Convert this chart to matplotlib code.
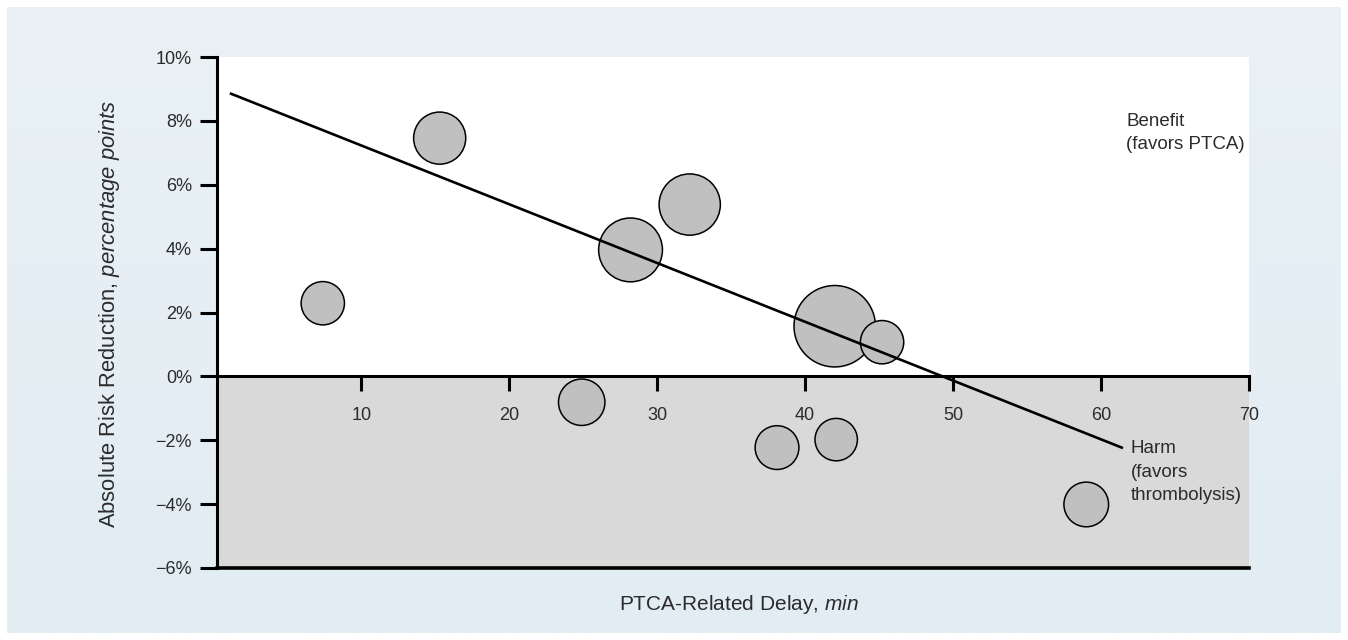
import numpy as np
import matplotlib
matplotlib.use("Agg")
import matplotlib.pyplot as plt

plt.rcParams['font.family'] = ['Liberation Sans', 'DejaVu Sans']
plt.rcParams['mathtext.fontset'] = 'custom'
plt.rcParams['mathtext.rm'] = 'Liberation Sans'
plt.rcParams['mathtext.it'] = 'Liberation Sans:italic'

# trial data
delay = [7.4, 15.3, 24.9, 28.2, 32.2, 38.1, 42.0, 45.2, 42.1, 59.0]
arr = [2.29, 7.46, -0.81, 3.96, 5.38, -2.23, 1.57, 1.07, -1.98, -4.01]
weight = [47, 68, 54, 102, 94, 48, 166, 47, 45, 50]

# regression line end points
trend_x = [1.2, 61.4]
trend_y = [8.85, -2.23]

xticks = [10, 20, 30, 40, 50, 60, 70]
yticks = [10, 8, 6, 4, 2, 0, -2, -4, -6]
ytick_labels = ['10%', '8%', '6%', '4%', '2%', '0%', '\u22122%', '\u22124%', '\u22126%']

W, H = 1348, 640
fig = plt.figure(figsize=(W / 100, H / 100), dpi=100)
fig.patch.set_facecolor('white')

# light blue gradient panel behind everything
bg = fig.add_axes([7 / W, 7 / H, 1334 / W, 626 / H], zorder=0)
grad = np.linspace(0, 1, 256).reshape(-1, 1)
cmap = matplotlib.colors.LinearSegmentedColormap.from_list('bg', ['#e9f1f5', '#e1ecf3'])
bg.imshow(grad, aspect='auto', cmap=cmap, extent=[0, 1, 0, 1])
bg.axis('off')

left, right, top, bottom = 217, 1249, 57, 568
ax = fig.add_axes([left / W, 1 - bottom / H, (right - left) / W, (bottom - top) / H], zorder=1)
ax.set_facecolor('white')
ax.set_xlim(0.25, 70)
ax.set_ylim(-6, 10)
ax.axhspan(-6, 0, color='#d9d9d9', zorder=0, lw=0)

txt = '#2b2b2b'
for s in ['top', 'right']:
    ax.spines[s].set_visible(False)
ax.spines['left'].set_linewidth(2.2)
ax.spines['bottom'].set_linewidth(2.2)
ax.spines['bottom'].set_position(('data', 0))
ax.axhline(-6, color='black', lw=2.6, zorder=5, clip_on=False)

ax.set_xticks(xticks)
ax.set_xticklabels([str(t) for t in xticks])
ax.set_yticks(yticks)
ax.set_yticklabels(ytick_labels)
ax.tick_params(axis='y', direction='out', length=12, width=2.2, pad=6,
               labelsize=13, labelcolor=txt)
ax.tick_params(axis='x', direction='out', length=11, width=2.2, pad=11,
               labelsize=13, labelcolor=txt)

ax.scatter(delay, arr, s=[w * 20.7 for w in weight], facecolor='#c0c0c0',
           edgecolor='black', linewidth=1.1, zorder=3)
ax.plot(trend_x, trend_y, color='black', lw=1.9, zorder=4)

ax.text(61.7, 8.25, 'Benefit\n(favors PTCA)', fontsize=13.5, color=txt,
        va='top', ha='left', linespacing=1.5)
ax.text(62.0, -2.0, 'Harm\n(favors\nthrombolysis)', fontsize=13.5, color=txt,
        va='top', ha='left', linespacing=1.5)

fig.text(739 / W, 1 - 605 / H, 'PTCA-Related Delay, $\\it{min}$', fontsize=15,
         color=txt, ha='center', va='center')
fig.text(110 / W, 1 - 314 / H, 'Absolute Risk Reduction, $\\it{percentage\\ points}$',
         fontsize=15.8, color=txt, ha='center', va='center', rotation=90)

fig.savefig('out.png', dpi=100)
